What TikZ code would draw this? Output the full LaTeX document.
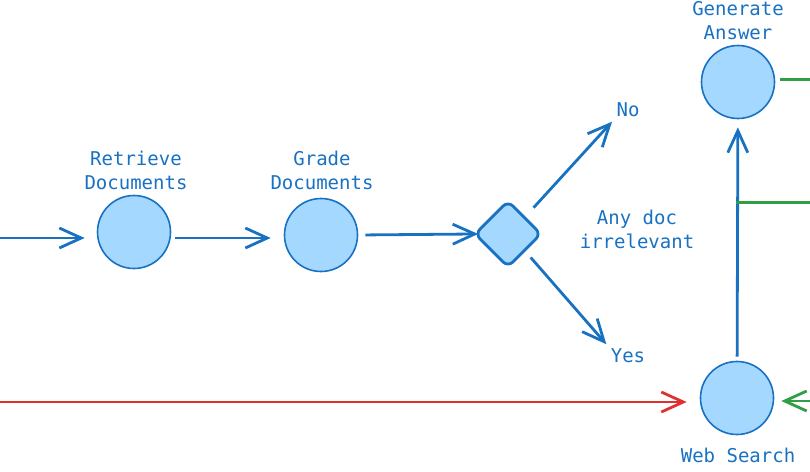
\documentclass[tikz,border=0pt]{standalone}
\usepackage{fontspec}
\newfontfamily\handfont{DejaVu Sans Mono}
\usetikzlibrary{arrows.meta,shapes.geometric}
\definecolor{eblue}{HTML}{1971C2}
\definecolor{efill}{HTML}{A5D8FF}
\definecolor{ered}{HTML}{E03131}
\definecolor{egreen}{HTML}{2F9E44}
\tikzset{
  statenode/.style={circle,draw=eblue,fill=efill,line width=1.6pt,minimum size=73pt,inner sep=0pt},
  decnode/.style={diamond,draw=eblue,fill=efill,line width=2.8pt,minimum width=67pt,minimum height=67pt,inner sep=0pt,rounded corners=7pt},
  txt/.style={text=eblue,font=\handfont\fontsize{19}{24}\selectfont,align=center,inner sep=3pt},
  conn/.style={line width=2.8pt,-{Straight Barb[length=22pt,width=20pt,line width=2.8pt]}},
  plainline/.style={line width=3pt}
}
\begin{document}
\begin{tikzpicture}[x=1pt,y=-1pt]
\useasboundingbox (0,0) rectangle (810,471);
% nodes
\node[statenode] (ret) at (134,232) {};
\node[statenode] (gra) at (321,235) {};
\node[decnode] (dec) at (508,234) {};
\node[statenode] (gen) at (738,82) {};
\node[statenode] (web) at (737,398) {};
% labels
\node[txt] (retl) at (136,170) {Retrieve\\Documents};
\node[txt] (gral) at (322,170) {Grade\\Documents};
\node[txt] (genl) at (738,21) {Generate\\Answer};
\node[txt] (webl) at (738,455) {Web Search};
\node[txt] (no) at (628,110) {No};
\node[txt] (yes) at (628,356) {Yes};
\node[txt] (anyl) at (637,229) {Any doc\\irrelevant};
% free ends
\coordinate (start) at (0,238);
\coordinate (redstart) at (0,402);
\coordinate (g1end) at (810,79);
\coordinate (g2start) at (736,202);
\coordinate (g2end) at (810,202);
\coordinate (g3start) at (810,401);
% connectors
\draw[conn,eblue,shorten >=12pt] (start) -- (ret.west |- start);
\draw[conn,eblue,shorten <=4pt,shorten >=13pt] (ret.east |- start) -- (gra.west |- start);
\draw[conn,eblue,shorten <=7pt,shorten >=-5pt] (gra.east) -- (dec.west);
\draw[conn,eblue,shorten <=12pt,shorten >=2pt] (dec.north east) -- (no.south west);
\draw[conn,eblue,shorten <=8pt,shorten >=2pt] (dec.south east) -- (yes.north west);
\draw[conn,ered,shorten >=13pt] (redstart) -- (web.west |- redstart);
\draw[conn,eblue,shorten <=4pt,shorten >=8pt] (web) -- (gen);
\draw[plainline,egreen,shorten <=5pt] (gen.east |- g1end) -- (g1end);
\draw[plainline,egreen] (g2start) -- (g2end);
\draw[conn,egreen,shorten >=7pt] (g3start) -- (web.east |- g3start);
\end{tikzpicture}
\end{document}
